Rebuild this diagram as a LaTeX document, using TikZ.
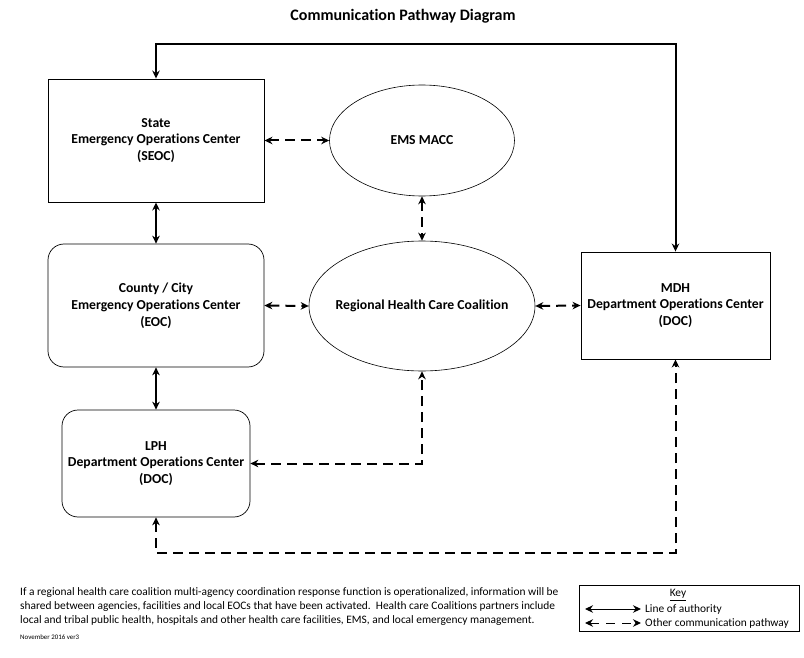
\documentclass[tikz,border=0pt]{standalone}
\usepackage{fontspec}
\setmainfont[Ligatures=NoCommon]{Carlito}
\usetikzlibrary{shapes.geometric,arrows.meta}

\begin{document}
\begin{tikzpicture}[x=1pt,y=-1pt]
\tikzstyle{every node}=[font=\fontsize{13.7}{16.8}\selectfont\bfseries, align=center, inner sep=0pt]
\tikzstyle{box}=[draw, line width=0.9pt]
\tikzstyle{oval}=[draw, ellipse, line width=0.6pt]
\tikzstyle{auth}=[line width=2pt, {Stealth[length=8pt,width=7.5pt]}-{Stealth[length=8pt,width=7.5pt]}]
\tikzstyle{other}=[auth, dash pattern=on 10pt off 6pt]
\tikzstyle{small}=[font=\fontsize{11.4}{14}\selectfont]
\useasboundingbox (0,0) rectangle (804,658);
\node at (403,16) [font=\fontsize{16}{19}\selectfont\bfseries] (title) {Communication Pathway Diagram};
\node at (156,140.5) [box, minimum width=216pt, minimum height=123pt] (seoc) {State\\Emergency Operations Center\\(SEOC)};
\node at (156,305.5) [box, rounded corners=16pt, line width=0.7pt, minimum width=216pt, minimum height=123pt] (eoc) {County / City\\Emergency Operations Center\\(EOC)};
\node at (156,463.5) [box, rounded corners=16pt, line width=0.7pt, minimum width=188pt, minimum height=107pt] (lph) {LPH\\Department Operations Center\\(DOC)};
\node at (422,140.5) [oval, minimum width=185pt, minimum height=111pt, label=center:EMS MACC] (ems) {};
\node at (422,306) [oval, minimum width=226pt, minimum height=130pt, label=center:Regional Health Care Coalition] (rhcc) {};
\node at (675.5,305.5) [box, minimum width=189pt, minimum height=107pt] (mdh) {MDH\\Department Operations Center\\(DOC)};
\coordinate (top) at (400,44);
\coordinate (bottom) at (400,553);
\draw[auth] (seoc.south) -- (eoc.north);
\draw[auth] (eoc.south) -- (lph.north);
\draw[auth] (seoc.north) |- (top) -| (mdh.north);
\draw[other] (seoc.east) -- (ems.west);
\draw[other] (eoc.east) -- (rhcc.west);
\draw[other] (rhcc.east) -- (mdh.west);
\draw[other] (ems.south) -- (rhcc.north);
\draw[other] (lph.east) -| (rhcc.south);
\draw[other] (lph.south) |- (bottom) -| (mdh.south);
% note and key
\node at (20,607) [anchor=west, align=left, small] (note) {If a regional health care coalition multi-agency coordination response function is operationalized, information will be\\shared between agencies, facilities and local EOCs that have been activated.\ \ Health care Coalitions partners include\\local and tribal public health, hospitals and other health care facilities, EMS, and local emergency management.};
\node at (20,637) [anchor=west, font=\fontsize{6.9}{8}\selectfont] (ver) {November 2016 ver3};
\node at (689,608) [draw, line width=1pt, minimum width=220pt, minimum height=46pt] (key) {};
\node at (678,595) [small] (keytitle) {\underline{Key}};
\coordinate (a1) at (585,609);
\coordinate (a2) at (641,609);
\coordinate (b1) at (585,623);
\coordinate (b2) at (641,623);
\draw[auth, line width=1pt] (a1) -- (a2);
\draw[other, line width=1pt, dash pattern=on 9pt off 7pt] (b1) -- (b2);
\node at (645,609) [small, anchor=west] (lauth) {Line of authority};
\node at (645,623) [small, anchor=west] (lother) {Other communication pathway};
\end{tikzpicture}
\end{document}
